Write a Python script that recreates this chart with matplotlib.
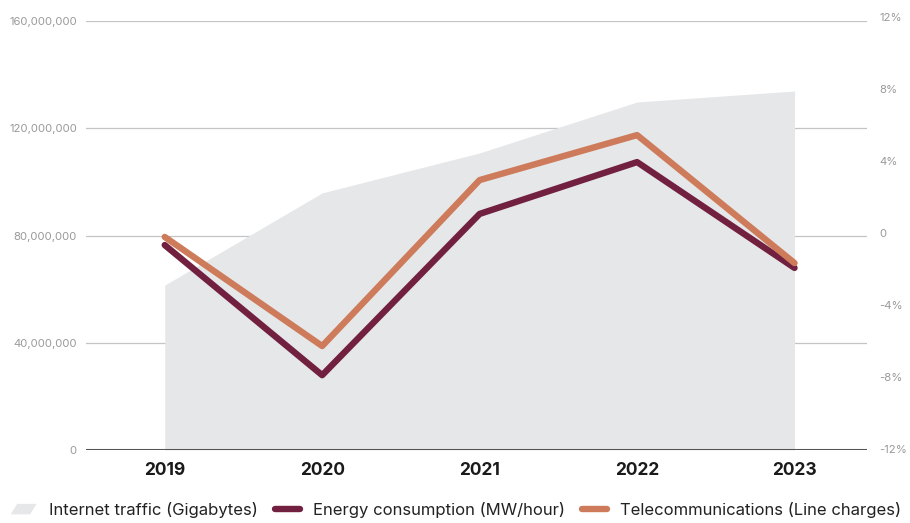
import matplotlib.pyplot as plt
import matplotlib.patches as mpatches
from matplotlib.legend_handler import HandlerPatch
from matplotlib.lines import Line2D
from matplotlib.ticker import FuncFormatter

plt.rcParams['font.family'] = ['Inter', 'DejaVu Sans']

years = ["2019", "2020", "2021", "2022", "2023"]
internet_traffic = [61.5e6, 95.9e6, 110.8e6, 129.8e6, 133.9e6]
energy = [-0.67, -7.9, 1.06, 3.94, -1.94]
telecom = [-0.22, -6.28, 2.94, 5.44, -1.67]

left_ticks = [0, 40e6, 80e6, 120e6, 160e6]
right_ticks = [-12, -8, -4, 0, 4, 8, 12]

area_color = "#e6e7e9"
energy_color = "#722040"
telecom_color = "#cd7b5a"
grid_color = "#c4c4c4"
label_color = "#9a9a9a"


class HandlerSkew(HandlerPatch):
    def create_artists(self, legend, orig_handle, xdescent, ydescent,
                       width, height, fontsize, trans):
        w, h = width, height
        pts = [(-xdescent, -ydescent + 0.05 * h),
               (-xdescent + 0.75 * w, -ydescent + 0.05 * h),
               (-xdescent + w, -ydescent + 0.95 * h),
               (-xdescent + 0.25 * w, -ydescent + 0.95 * h)]
        p = mpatches.Polygon(pts, closed=True, facecolor=orig_handle.get_facecolor(),
                             edgecolor="none", transform=trans)
        return [p]


fig = plt.figure(figsize=(9.1, 5.23), dpi=100)
ax = fig.add_axes([0.0945, 0.1396, 0.8582, 0.8202])
x = list(range(len(years)))

for t in left_ticks[1:]:
    ax.axhline(t, color=grid_color, lw=0.9, zorder=0)
ax.fill_between(x, 0, internet_traffic, color=area_color, lw=0, zorder=1)
ax.axhline(0, color="#555555", lw=2.2, zorder=3)

ax.set_xlim(-0.5, 4.46)
ax.set_ylim(0, 160e6)
ax.set_yticks(left_ticks)
ax.yaxis.set_major_formatter(FuncFormatter(lambda v, p: f"{int(v):,}"))
ax.set_xticks(x)
ax.set_xticklabels(years, fontsize=12.5, fontweight="bold", color="#1a1a1a")
ax.tick_params(axis="x", length=0, pad=9)
ax.tick_params(axis="y", length=0, pad=6.5, labelsize=8.2, labelcolor=label_color)
for s in ax.spines.values():
    s.set_visible(False)

# right-hand percentage axis sits a few pixels higher than the left one
ax2 = fig.add_axes([0.0945, 0.1415, 0.8582, 0.8260])
ax2.patch.set_visible(False)
ax2.plot(x, energy, color=energy_color, lw=4.6, solid_capstyle="round",
         solid_joinstyle="round", zorder=4)
ax2.plot(x, telecom, color=telecom_color, lw=4.6, solid_capstyle="round",
         solid_joinstyle="round", zorder=5)
ax2.set_xlim(-0.5, 4.46)
ax2.set_xticks([])
ax2.set_ylim(-12, 12)
ax2.yaxis.tick_right()
ax2.set_yticks(right_ticks)
ax2.set_yticklabels([f"{t}%" if t != 0 else "0" for t in right_ticks])
ax2.tick_params(axis="y", length=0, pad=9, labelsize=8.2, labelcolor=label_color)
for s in ax2.spines.values():
    s.set_visible(False)

handles = [mpatches.Patch(facecolor=area_color, label="Internet traffic (Gigabytes)"),
           Line2D([], [], color=energy_color, lw=4.6, solid_capstyle="round",
                  label="Energy consumption (MW/hour)"),
           Line2D([], [], color=telecom_color, lw=4.6, solid_capstyle="round",
                  label="Telecommunications (Line charges)")]
fig.legend(handles=handles, loc="center", bbox_to_anchor=(0.501, 0.025), ncol=3,
           frameon=False, fontsize=12, handlelength=1.55, handletextpad=0.75,
           columnspacing=1.0, labelcolor="#222222",
           handler_map={mpatches.Patch: HandlerSkew()})

fig.savefig("out.png", dpi=100)
